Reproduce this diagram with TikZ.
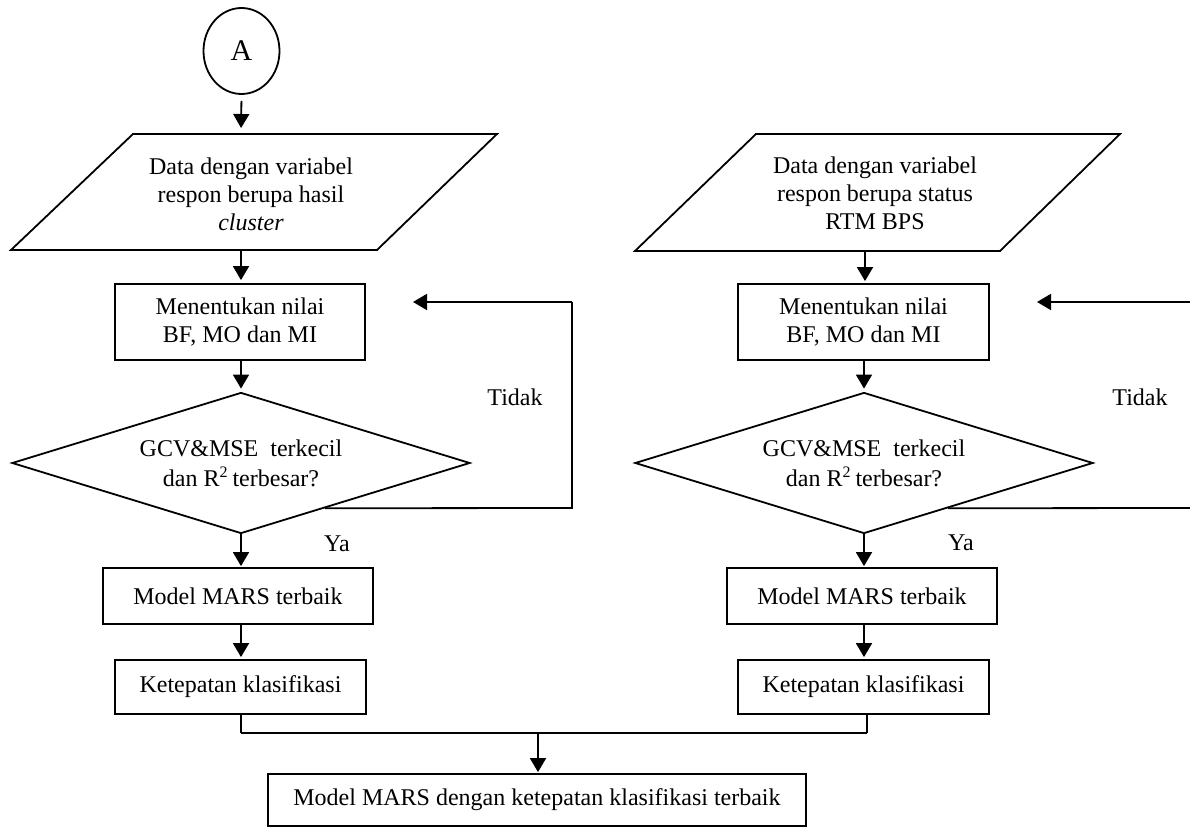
\documentclass[tikz,border=0pt]{standalone}
\usepackage{fontspec}
\setmainfont{Liberation Serif}
\usetikzlibrary{shapes.geometric,arrows.meta,calc}
\begin{document}
\begin{tikzpicture}[x=0.5pt,y=-0.5pt,
  every node/.style={font=\fontsize{12}{14}\selectfont},
  box/.style={draw, line width=0.9pt, inner sep=0pt, align=center},
  dia/.style={draw, diamond, aspect=3.25, line width=0.9pt, inner sep=0pt, align=center,
              minimum width=229pt, minimum height=70.5pt, font=\fontsize{12}{15}\selectfont},
  lbl/.style={inner sep=0pt, align=center},
  arr/.style={line width=0.9pt, -{Triangle[length=7pt,width=8pt]}},
  thinline/.style={line width=0.6pt},
  shapeline/.style={line width=0.9pt, line join=miter}]
\useasboundingbox (0,0) rectangle (1190,828);

% ---------- left column ----------
\node[draw, ellipse, line width=0.9pt, minimum width=38pt, minimum height=43pt, inner sep=0pt,
      font=\fontsize{15}{18}\selectfont] (A) at (241.5,51) {A};

\draw[shapeline] (133,134) -- (497,134) -- (377,250) -- (11,250) -- cycle;
\node[lbl] (p1) at (251,194) {Data dengan variabel\\respon berupa hasil\\\textit{cluster}};
\coordinate (p1t) at (241,134);
\coordinate (p1b) at (241,250);

\node[box, minimum width=125pt, minimum height=38pt] (b1) at (240,322) {Menentukan nilai\\BF, MO dan MI};
\node[dia] (d1) at (241,463) {GCV\&MSE\ \ terkecil\\dan R\textsuperscript{2}\,terbesar?};
\node[box, minimum width=135pt, minimum height=28pt] (m1) at (238,596) {Model MARS terbaik};
\node[box, minimum width=125.5pt, minimum height=27pt] (k1) at (240.5,687) {Ketepatan klasifikasi};

\node[lbl] (t1) at (515,397) {Tidak};
\node[lbl] (y1) at (337,544) {Ya};

% ---------- right column ----------
\draw[shapeline] (756,134) -- (1120,134) -- (1000,251) -- (635,251) -- cycle;
\node[lbl] (p2) at (875,193) {Data dengan variabel\\respon berupa status\\RTM BPS};
\coordinate (p2t) at (865,134);
\coordinate (p2b) at (865,251);

\node[box, minimum width=125.5pt, minimum height=38pt] (b2) at (863.5,322) {Menentukan nilai\\BF, MO dan MI};
\node[dia] (d2) at (864,463) {GCV\&MSE\ \ terkecil\\dan R\textsuperscript{2}\,terbesar?};
\node[box, minimum width=135pt, minimum height=28pt] (m2) at (862,596) {Model MARS terbaik};
\node[box, minimum width=125.5pt, minimum height=27pt] (k2) at (863.5,687) {Ketepatan klasifikasi};

\node[lbl] (t2) at (1140,397) {Tidak};
\node[lbl] (y2) at (961,543) {Ya};

% ---------- final ----------
\node[box, minimum width=269pt, minimum height=26pt] (F) at (537,800) {Model MARS dengan ketepatan klasifikasi terbaik};

% ---------- connectors left ----------
\draw[arr, shorten <=3pt, shorten >=3pt] (A.south) -- (p1t);
\draw[arr, shorten >=1.5pt] (p1b) -- (p1b |- b1.north);
\draw[arr, shorten >=1.5pt] (b1.south -| d1.north) -- (d1.north);
\draw[arr, shorten >=0.5pt] (d1.south) -- (d1.south |- m1.north);
\draw[arr, shorten >=1pt] (m1.south -| d1.south) -- (d1.south |- k1.north);
\coordinate (l1a) at ($(d1.east)!0.634!(d1.south)$);
\coordinate (l1end) at (413,302);
\draw[line width=0.9pt] (l1a) -- (572,508) -- (572,302) coordinate (l1c);
\draw[arr] (l1c) -- (l1end);

% ---------- connectors right ----------
\draw[arr, shorten >=1pt] (p2b) -- (p2b |- b2.north);
\draw[arr, shorten >=1.5pt] (b2.south -| d2.north) -- (d2.north);
\draw[arr, shorten >=0.5pt] (d2.south) -- (d2.south |- m2.north);
\draw[arr, shorten >=1pt] (m2.south -| d2.south) -- (d2.south |- k2.north);
\coordinate (l2a) at ($(d2.east)!0.634!(d2.south)$);
\coordinate (l2out) at (1190,508);
\coordinate (l2in) at (1190,302);
\coordinate (l2end) at (1037,302);
\draw[line width=0.9pt] (l2a) -- (l2out);
\draw[arr] (l2in) -- (l2end);

% ---------- merge ----------
\coordinate (mL) at (241,733);
\coordinate (mR) at (867,733);
\coordinate (mM) at (538,733);
\draw[thinline] (k1.south -| mL) -- (mL);
\draw[thinline] (k2.south -| mR) -- (mR);
\draw[thinline] (mL) -- (mR);
\draw[arr, shorten >=0.5pt] (mM) -- (mM |- F.north);
\end{tikzpicture}
\end{document}
